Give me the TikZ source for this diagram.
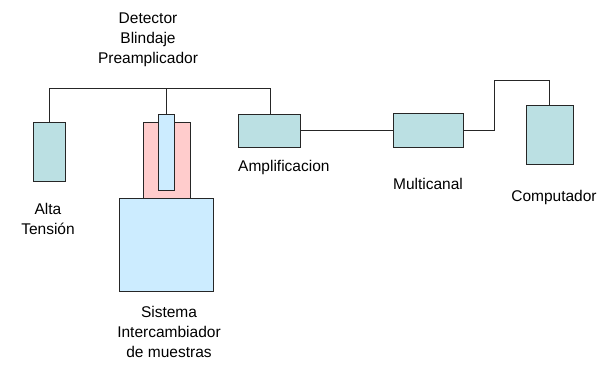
\documentclass[tikz,border=0pt]{standalone}
\usepackage{fontspec}
\setmainfont{Liberation Sans}
\definecolor{tealbox}{HTML}{BBE0E3}
\definecolor{pinkbox}{HTML}{FFCCCC}
\definecolor{bluebox}{HTML}{CCECFF}
\begin{document}
\begin{tikzpicture}[x=1pt,y=-1pt,
  box/.style={draw=black!85,line width=1pt},
  wire/.style={draw=black!85,line width=1pt},
  lbl/.style={font=\fontsize{15.5}{20}\selectfont,align=center,inner sep=0pt}]
\useasboundingbox (0,0) rectangle (607,365);
% boxes
\path[box,fill=tealbox] (33,122) rectangle (65,181) coordinate (atB);
\node (alta) [inner sep=0pt,minimum width=0pt] at (49,122) {};
\path[box,fill=pinkbox] (143,122) rectangle (190,198);
\path[box,fill=bluebox] (119,198) rectangle (213,291);
\path[box,fill=bluebox] (158,114) rectangle (174,190);
\node (tube) [inner sep=0pt] at (166,114) {};
\node (amp) [box,fill=tealbox,minimum width=62pt,minimum height=33pt,inner sep=0pt] at (269.5,130.5) {};
\node (multi) [box,fill=tealbox,minimum width=70pt,minimum height=34pt,inner sep=0pt] at (428,130.5) {};
\node (comp) [box,fill=tealbox,minimum width=47pt,minimum height=59pt,inner sep=0pt] at (549.5,134.5) {};
% connectors
\coordinate (tl) at (49,88);
\coordinate (tm) at (166,88);
\coordinate (tr) at (270,88);
\draw[wire] (alta.center) -- (tl) -- (tr) -- (tr |- amp.north);
\draw[wire] (tm) -- (tube.center);
\draw[wire] (amp.east) -- (multi.west);
\coordinate (k1) at (494,80);
\draw[wire] (multi.east) -- (k1 |- multi.east) -- (k1) -- (comp.north |- k1) -- (comp.north);
% labels
\node[lbl] (tdet) at (148,40) {Detector\\Blindaje\\Preamplicador};
\node[lbl] (talta) at (48,219) {Alta\\Tensión};
\node[lbl,anchor=west] (tamp) at (238,167) {Amplificacion};
\node[lbl] (tmulti) at (428,184) {Multicanal};
\node[lbl] (tcomp) at (554,197) {Computador};
\node[lbl] (tsis) at (169,332) {Sistema\\Intercambiador\\de muestras};
\end{tikzpicture}
\end{document}
